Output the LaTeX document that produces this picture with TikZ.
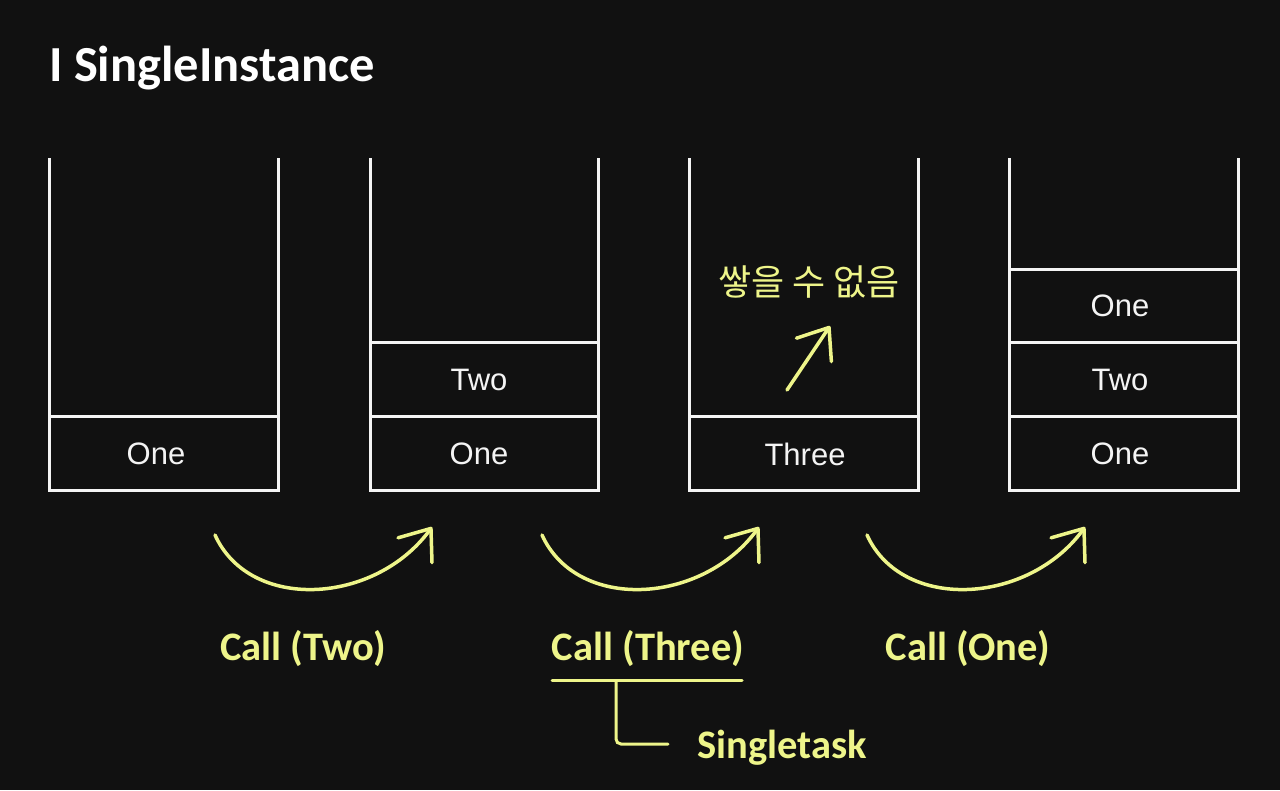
\documentclass[tikz,border=0pt]{standalone}
\usepackage{fontspec}
\setmainfont{Liberation Sans}
\newfontfamily\calib{Carlito}
\newfontfamily\kor{Noto Sans CJK KR}
\usetikzlibrary{arrows.meta}
\definecolor{bg}{HTML}{111111}
\definecolor{hl}{HTML}{EEF58A}
\definecolor{wl}{HTML}{F4F4F4}
\tikzset{
  wall/.style={draw=wl, line width=3pt},
  cell/.style={font=\fontsize{31}{36}\selectfont, text=wl, inner sep=0pt},
  lbl/.style={font=\calib\bfseries\fontsize{40.5}{48}\selectfont, text=hl, inner sep=0pt},
  hline/.style={draw=hl, line width=3pt, line cap=round},
  callarrow/.style={draw=hl, line width=3.5pt, line cap=round,
    -{Straight Barb[length=27pt,width=42pt,round]}},
}
\begin{document}
\begin{tikzpicture}[x=1pt,y=-1pt]
\fill[bg] (0,0) rectangle (1280,790);
\useasboundingbox (0,0) rectangle (1280,790);

% title
\node[anchor=base west, inner sep=0pt, text=white,
  font=\calib\bfseries\fontsize{50.5}{60}\selectfont] (title) at (49,81) {I SingleInstance};

% stack 1
\draw[wall] (49,158) -- (49,490) -- (278,490) -- (278,158);
\draw[wall] (49,416) -- (278,416);
\node[cell] (s1a) at (156,454) {One};

% stack 2
\draw[wall] (370,158) -- (370,490) -- (598,490) -- (598,158);
\draw[wall] (370,416) -- (598,416);
\draw[wall] (370,342) -- (598,342);
\node[cell] (s2a) at (479,454) {One};
\node[cell] (s2b) at (479,380) {Two};

% stack 3
\draw[wall] (689,158) -- (689,490) -- (918,490) -- (918,158);
\draw[wall] (689,416) -- (918,416);
\node[cell] (s3a) at (805,454) {Three};
\node[font=\kor\fontsize{36}{42}\selectfont, text=hl, inner sep=0pt] (no) at (809,282) {쌓을 수 없음};
\coordinate (nt) at (787,390);
\coordinate (nh) at (830,326);
\draw[callarrow] (nt) -- (nh);

% stack 4
\draw[wall] (1009,158) -- (1009,490) -- (1238,490) -- (1238,158);
\draw[wall] (1009,416) -- (1238,416);
\draw[wall] (1009,342) -- (1238,342);
\draw[wall] (1009,269) -- (1238,269);
\node[cell] (s4a) at (1120,454) {One};
\node[cell] (s4b) at (1120,380) {Two};
\node[cell] (s4c) at (1120,306) {One};

% call arrows
\coordinate (a1s) at (215,535); \coordinate (a1e) at (432,527);
\coordinate (a2s) at (542,535); \coordinate (a2e) at (759,527);
\coordinate (a3s) at (867,535); \coordinate (a3e) at (1085,527);
\draw[callarrow] (a1s) .. controls +(35,77) and +(-57,78) .. (a1e);
\draw[callarrow] (a2s) .. controls +(35,77) and +(-57,78) .. (a2e);
\draw[callarrow] (a3s) .. controls +(35,77) and +(-57,78) .. (a3e);

% labels
\node[lbl, anchor=base] (c1) at (303,660) {Call (Two)};
\node[lbl, anchor=base] (c2) at (648,660) {Call (Three)};
\node[lbl, anchor=base] (c3) at (968,660) {Call (One)};
\node[lbl, anchor=base west] (st) at (697,758) {Singletask};

\coordinate (u1) at (552,680);
\coordinate (u2) at (742,680);
\coordinate (b1) at (616,681);
\coordinate (b2) at (668,744);
\draw[hline] (u1) -- (u2);
\draw[hline, rounded corners=5pt] (b1) |- (b2);
\end{tikzpicture}
\end{document}
